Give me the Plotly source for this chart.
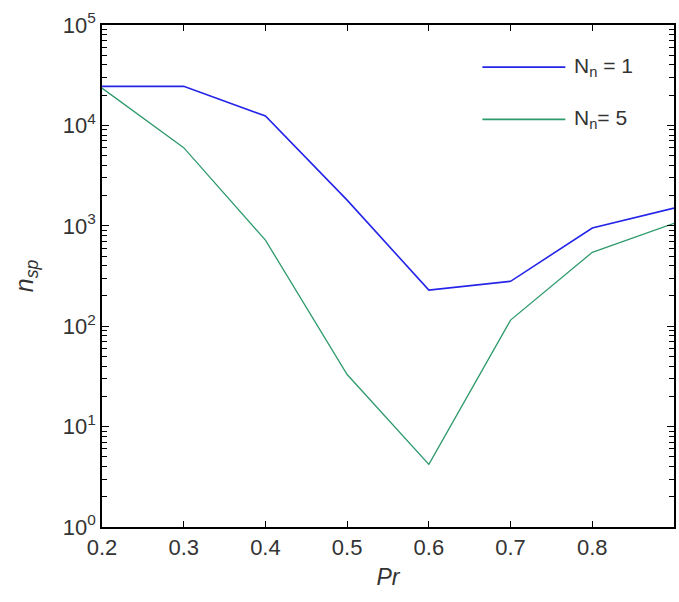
import plotly.graph_objects as go

# datos
pr = [0.2, 0.3, 0.4, 0.5, 0.6, 0.7, 0.8, 0.9]
nsp_n1 = [24500, 24500, 12400, 1800, 229, 280, 950, 1500]
nsp_n5 = [23500, 6000, 720, 33, 4.2, 115, 545, 1060]

x_ticks = [0.2, 0.3, 0.4, 0.5, 0.6, 0.7, 0.8]
x_labels = ['0.2', '0.3', '0.4', '0.5', '0.6', '0.7', '0.8']
y_ticks = [1, 10, 100, 1000, 10000, 100000]
y_labels = ['10<sup>%d</sup>' % i for i in range(6)]
y_minor = [m * 10 ** d for d in range(5) for m in range(2, 10)]

legend_names = ['N<sub>n</sub> = 1', 'N<sub>n</sub>= 5']
colores = ['#2424e8', '#2f9a6c']

fuente = 'Liberation Sans, Arial, sans-serif'

fig = go.Figure()
fig.add_trace(go.Scatter(x=pr, y=nsp_n1, mode='lines', name=legend_names[0],
                         line=dict(color=colores[0], width=1.6)))
fig.add_trace(go.Scatter(x=pr, y=nsp_n5, mode='lines', name=legend_names[1],
                         line=dict(color=colores[1], width=1.3)))

# leyenda dibujada a mano (estilo MATLAB)
for i, (nombre, col) in enumerate(zip(legend_names, colores)):
    yy = 0.916 - i * 0.104
    fig.add_shape(type='line', xref='paper', yref='paper', x0=0.665, x1=0.81, y0=yy, y1=yy,
                  line=dict(color=col, width=1.6))
    fig.add_annotation(xref='paper', yref='paper', x=0.822, y=yy, text=nombre, showarrow=False,
                       xanchor='left', yanchor='middle', font=dict(size=21, color='#333'))

fig.update_layout(
    width=679, height=602,
    margin=dict(l=102, r=3, t=25, b=75),
    plot_bgcolor='white', paper_bgcolor='white',
    showlegend=False,
    font=dict(family=fuente, size=22, color='#333'),
    xaxis=dict(range=[0.2, 0.9], tickvals=x_ticks, ticktext=x_labels,
               ticks='inside', ticklen=6, tickwidth=1.3, tickcolor='black', showgrid=False, zeroline=False,
               showline=True, linecolor='black', linewidth=1.5, mirror='ticks',
               title=dict(text='<i>Pr</i>', font=dict(size=23), standoff=10)),
    yaxis=dict(type='log', range=[0, 5], tickvals=y_ticks, ticktext=y_labels,
               ticks='inside', ticklen=7, tickwidth=1.3, tickcolor='black', showgrid=False, zeroline=False,
               showline=True, linecolor='black', linewidth=1.5, mirror='ticks',
               minor=dict(tickvals=y_minor, ticks='inside', ticklen=5, tickwidth=1.3, tickcolor='black'),
               title=dict(text='<i>n</i><sub><i>sp</i></sub>', font=dict(size=25), standoff=22)),
)

# quitar el margen del body para que la figura ocupe la ventana entera
fig.write_html('out.html', config={'displayModeBar': False},
               post_script="document.body.style.margin='0';document.body.style.overflow='hidden';")
